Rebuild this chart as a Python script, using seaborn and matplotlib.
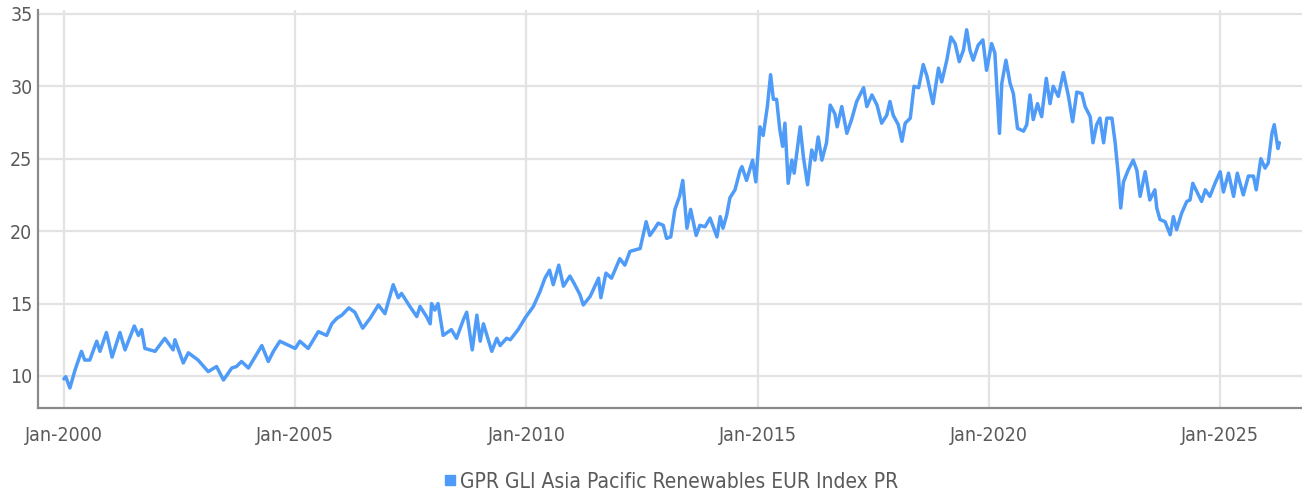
import matplotlib
matplotlib.use("Agg")
import matplotlib.pyplot as plt
import matplotlib.dates as mdates
from matplotlib.lines import Line2D
import pandas as pd
import seaborn as sns

# readings taken off the chart: decimal year and index level
years = [
    2000.00, 2000.04, 2000.13, 2000.24, 2000.38, 2000.45, 2000.56, 2000.71, 2000.78, 2000.92,
    2001.04, 2001.21, 2001.32, 2001.52, 2001.61, 2001.68, 2001.75, 2001.97, 2002.18, 2002.36,
    2002.40, 2002.58, 2002.69, 2002.90, 2003.12, 2003.30, 2003.45, 2003.63, 2003.73, 2003.84,
    2003.99, 2004.28, 2004.42, 2004.53, 2004.67, 2005.00, 2005.10, 2005.28, 2005.50, 2005.68,
    2005.79, 2005.90, 2006.01, 2006.16, 2006.29, 2006.46, 2006.62, 2006.80, 2006.94, 2007.12,
    2007.23, 2007.30, 2007.48, 2007.63, 2007.70, 2007.84, 2007.92, 2007.95, 2008.02, 2008.09,
    2008.20, 2008.38, 2008.49, 2008.64, 2008.71, 2008.83, 2008.93, 2009.00, 2009.07, 2009.25,
    2009.36, 2009.43, 2009.57, 2009.65, 2009.82, 2009.97, 2010.15, 2010.29, 2010.40, 2010.50,
    2010.58, 2010.70, 2010.80, 2010.94, 2011.03, 2011.16, 2011.23, 2011.38, 2011.56, 2011.61,
    2011.72, 2011.84, 2012.02, 2012.13, 2012.24, 2012.35, 2012.46, 2012.59, 2012.67, 2012.78,
    2012.85, 2012.96, 2013.03, 2013.12, 2013.21, 2013.31, 2013.38, 2013.47, 2013.55, 2013.67,
    2013.75, 2013.86, 2013.97, 2014.12, 2014.19, 2014.25, 2014.33, 2014.40, 2014.51, 2014.62,
    2014.66, 2014.76, 2014.89, 2014.96, 2015.05, 2015.12, 2015.21, 2015.28, 2015.34, 2015.41,
    2015.48, 2015.54, 2015.59, 2015.66, 2015.74, 2015.79, 2015.92, 2015.99, 2016.08, 2016.17,
    2016.24, 2016.31, 2016.39, 2016.49, 2016.57, 2016.67, 2016.72, 2016.82, 2016.93, 2017.03,
    2017.14, 2017.29, 2017.36, 2017.47, 2017.58, 2017.68, 2017.79, 2017.86, 2017.93, 2018.04,
    2018.12, 2018.19, 2018.30, 2018.38, 2018.48, 2018.58, 2018.66, 2018.79, 2018.91, 2018.98,
    2019.09, 2019.18, 2019.27, 2019.36, 2019.45, 2019.52, 2019.59, 2019.66, 2019.77, 2019.87,
    2019.95, 2020.06, 2020.13, 2020.23, 2020.28, 2020.37, 2020.46, 2020.53, 2020.62, 2020.75,
    2020.82, 2020.89, 2020.96, 2021.05, 2021.14, 2021.24, 2021.32, 2021.39, 2021.50, 2021.61,
    2021.72, 2021.81, 2021.90, 2022.01, 2022.08, 2022.19, 2022.25, 2022.33, 2022.40, 2022.48,
    2022.55, 2022.66, 2022.73, 2022.80, 2022.85, 2022.91, 2023.01, 2023.12, 2023.20, 2023.27,
    2023.38, 2023.48, 2023.59, 2023.63, 2023.70, 2023.81, 2023.92, 2023.99, 2024.06, 2024.17,
    2024.28, 2024.35, 2024.41, 2024.50, 2024.60, 2024.68, 2024.78, 2024.89, 2025.00, 2025.07,
    2025.18, 2025.29, 2025.37, 2025.50, 2025.61, 2025.72, 2025.78, 2025.88, 2025.97, 2026.04,
    2026.12, 2026.17, 2026.25, 2026.28,
]
values = [
    9.80, 9.95, 9.17, 10.40, 11.70, 11.10, 11.10, 12.40, 11.70, 13.00,
    11.30, 13.00, 11.80, 13.45, 12.80, 13.20, 11.90, 11.70, 12.60, 11.80,
    12.50, 10.90, 11.60, 11.10, 10.30, 10.65, 9.72, 10.55, 10.65, 11.00,
    10.55, 12.10, 11.00, 11.70, 12.40, 11.90, 12.40, 11.90, 13.06, 12.80,
    13.60, 13.98, 14.20, 14.70, 14.40, 13.30, 13.98, 14.90, 14.30, 16.30,
    15.40, 15.70, 14.80, 14.10, 14.80, 14.10, 13.60, 15.00, 14.55, 15.00,
    12.80, 13.20, 12.60, 13.90, 14.40, 11.80, 14.20, 12.40, 13.60, 11.70,
    12.60, 12.10, 12.60, 12.50, 13.20, 14.00, 14.80, 15.80, 16.75, 17.30,
    16.30, 17.65, 16.20, 16.90, 16.40, 15.60, 14.90, 15.50, 16.75, 15.40,
    17.10, 16.75, 18.10, 17.65, 18.60, 18.70, 18.80, 20.65, 19.70, 20.20,
    20.55, 20.40, 19.50, 19.60, 21.50, 22.40, 23.50, 20.20, 21.50, 19.70,
    20.40, 20.30, 20.90, 19.60, 21.00, 20.20, 21.10, 22.30, 22.85, 24.20,
    24.45, 23.50, 24.90, 23.40, 27.20, 26.60, 28.60, 30.80, 29.10, 29.10,
    27.00, 25.85, 27.45, 23.30, 24.90, 24.00, 27.20, 25.10, 23.20, 25.60,
    24.90, 26.50, 24.90, 26.10, 28.70, 28.10, 27.20, 28.60, 26.75, 27.70,
    28.95, 29.90, 28.60, 29.40, 28.70, 27.45, 28.00, 28.95, 28.00, 27.35,
    26.20, 27.45, 27.80, 30.00, 29.90, 31.50, 30.70, 28.80, 31.25, 30.30,
    31.80, 33.40, 32.95, 31.70, 32.50, 33.90, 32.50, 31.80, 32.85, 33.20,
    31.10, 32.95, 32.30, 26.75, 30.20, 31.80, 30.20, 29.50, 27.10, 26.90,
    27.35, 29.40, 27.70, 28.80, 27.90, 30.55, 28.80, 30.00, 29.30, 30.95,
    29.30, 27.55, 29.60, 29.50, 28.60, 27.90, 26.10, 27.35, 27.80, 26.10,
    27.80, 27.80, 26.10, 23.80, 21.60, 23.40, 24.20, 24.90, 24.20, 22.40,
    24.10, 22.15, 22.85, 21.60, 20.80, 20.65, 19.75, 21.00, 20.10, 21.25,
    22.05, 22.15, 23.30, 22.70, 22.05, 22.85, 22.40, 23.30, 24.10, 22.70,
    24.00, 22.40, 24.00, 22.50, 23.80, 23.80, 22.85, 25.00, 24.35, 24.70,
    26.75, 27.35, 25.70, 26.10,
]

series_name = "GPR GLI Asia Pacific Renewables EUR Index PR"
tick_years = [2000, 2005, 2010, 2015, 2020, 2025]
y_ticks = [10, 15, 20, 25, 30, 35]

LINE_COLOR = "#4f9bf8"
TEXT_COLOR = "#5a5a5a"
GRID_COLOR = "#e3e3e3"
SPINE_COLOR = "#8a8a8a"


def to_date(y):
    """decimal year -> Timestamp"""
    whole = int(y)
    return pd.Timestamp(whole, 1, 1) + pd.Timedelta(days=(y - whole) * 365.25)


df = pd.DataFrame({"date": [to_date(y) for y in years], "value": values})

sns.set_theme(style="white")
plt.rcParams["font.family"] = ["DejaVu Sans"]
plt.rcParams["font.stretch"] = "condensed"

fig = plt.figure(figsize=(13.02, 4.95), dpi=100)
ax = fig.add_axes([0.0292, 0.1758, 0.9708, 0.805])

sns.lineplot(data=df, x="date", y="value", ax=ax, color=LINE_COLOR,
             linewidth=2.5, legend=False)

# axes ranges
ax.set_xlim(to_date(1999.44), to_date(2026.77))
ax.set_ylim(7.79, 35.3)

ax.set_xticks([pd.Timestamp(y, 1, 1) for y in tick_years])
ax.xaxis.set_major_formatter(mdates.DateFormatter("%b-%Y"))
ax.set_yticks(y_ticks)

ax.grid(True, color=GRID_COLOR, linewidth=1.6)
ax.set_axisbelow(True)
ax.set_xlabel("")
ax.set_ylabel("")

for side in ["top", "right"]:
    ax.spines[side].set_visible(False)
for side in ["left", "bottom"]:
    ax.spines[side].set_color(SPINE_COLOR)
    ax.spines[side].set_linewidth(1.6)

ax.tick_params(axis="x", length=0, pad=13, labelsize=14, labelcolor=TEXT_COLOR)
ax.tick_params(axis="y", length=0, pad=4, labelsize=14, labelcolor=TEXT_COLOR)

handle = Line2D([], [], marker="s", linestyle="none", color=LINE_COLOR, markersize=7)
ax.legend([handle], [series_name], loc="center", bbox_to_anchor=(0.5, -0.185),
          frameon=False, fontsize=15, labelcolor=TEXT_COLOR,
          handletextpad=0.1, handlelength=0.8)

fig.savefig("out.png", dpi=100)
